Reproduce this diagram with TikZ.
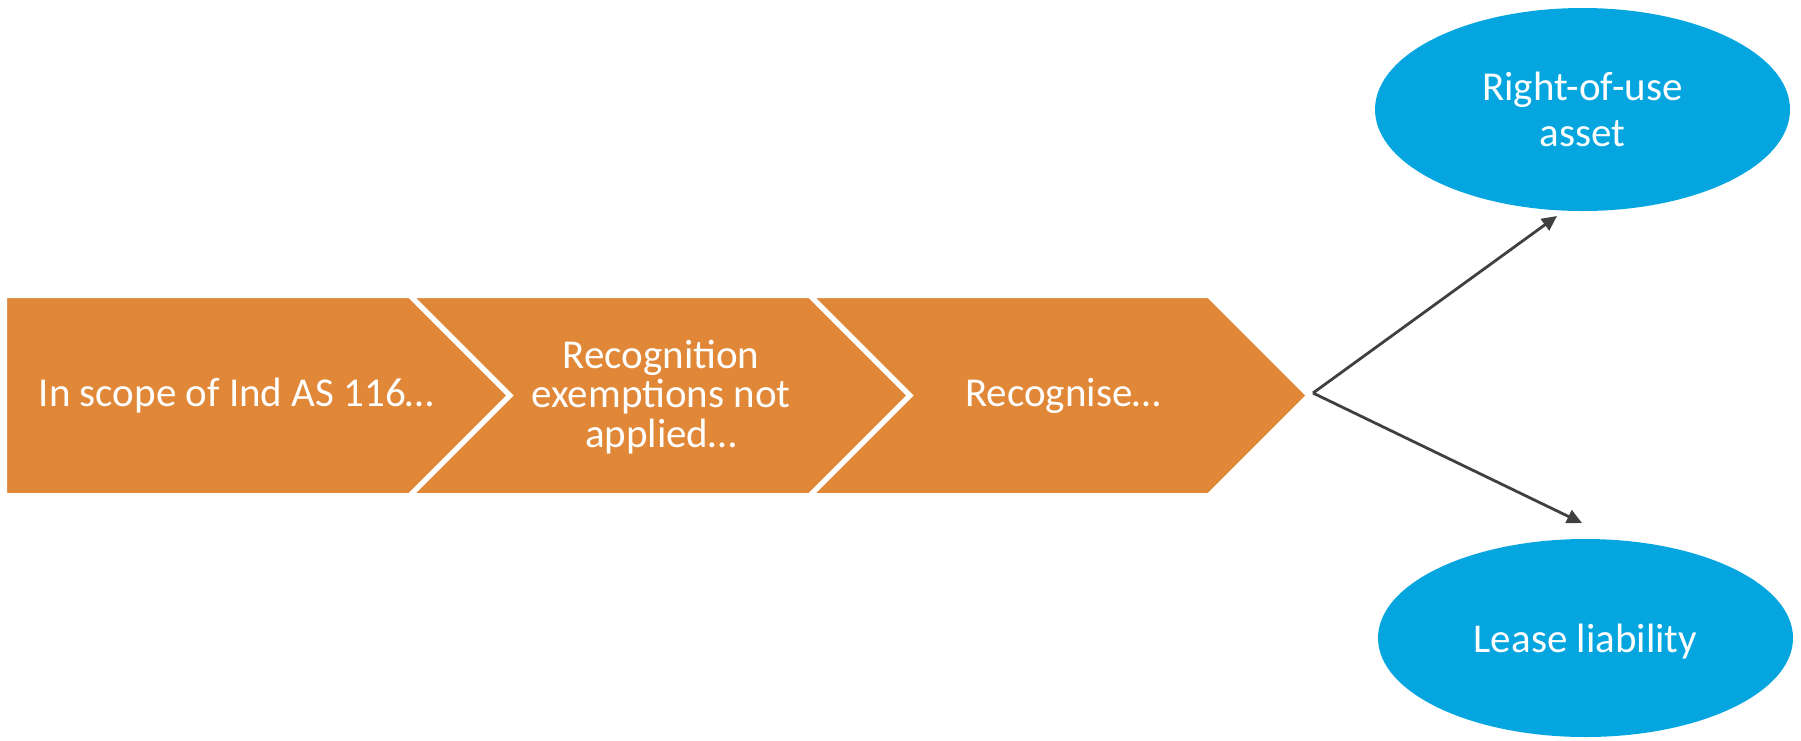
\documentclass[tikz,border=0pt]{standalone}
\usepackage{fontspec}
\setmainfont{Carlito}
\usetikzlibrary{shapes.geometric,arrows.meta}
\definecolor{chevronorange}{RGB}{224,135,56}
\definecolor{ovalblue}{RGB}{5,166,224}
\definecolor{linkgray}{RGB}{64,64,64}
\begin{document}
\begin{tikzpicture}[x=1pt,y=-1pt,
  chev/.style={fill=chevronorange,draw=white,line width=5pt,line join=miter},
  chevtext/.style={text=white,font=\fontsize{41}{39.3}\selectfont,align=center,inner sep=0pt},
  oval/.style={ellipse,fill=ovalblue,text=white,font=\fontsize{41}{46}\selectfont,
    align=center,inner sep=0pt},
  link/.style={draw=linkgray,line width=2.8pt,-{Triangle[length=15pt,width=14pt]}}]
\useasboundingbox (0,0) rectangle (1801,740);

% process band: one pentagon followed by two chevrons
\path[chev] (4.5,295.5) -- (410,295.5) -- (510,395.5) -- (410,495.5) -- (4.5,495.5) -- cycle;
\path[chev] (410,295.5) -- (810,295.5) -- (910,395.5) -- (810,495.5) -- (410,495.5) -- (510,395.5) -- cycle;
\path[chev] (810,295.5) -- (1209,295.5) -- (1309,395.5) -- (1209,495.5) -- (810,495.5) -- (910,395.5) -- cycle;

\node[chevtext,anchor=base] (scope) at (236.5,406.5) {In scope of Ind AS 116…};
\node[chevtext] (exempt) at (661,397) {Recognition\\exemptions not\\applied…};
\node[chevtext,anchor=base] (recog) at (1063,406.5) {Recognise…};

% outcomes
\node[oval,minimum width=415pt,minimum height=203pt] (asset) at (1582.5,109.5) {Right-of-use\\asset};
\node[oval,minimum width=415pt,minimum height=198pt,text depth=0pt] (liab) at (1585.5,638) {Lease liability};

% connectors from the end of the band
\coordinate (fork) at (1313,393);
\coordinate (assetend) at (1557,216);
\coordinate (liabend) at (1582,523);
\draw[link] (fork) -- (assetend);
\draw[link] (fork) -- (liabend);
\end{tikzpicture}
\end{document}
